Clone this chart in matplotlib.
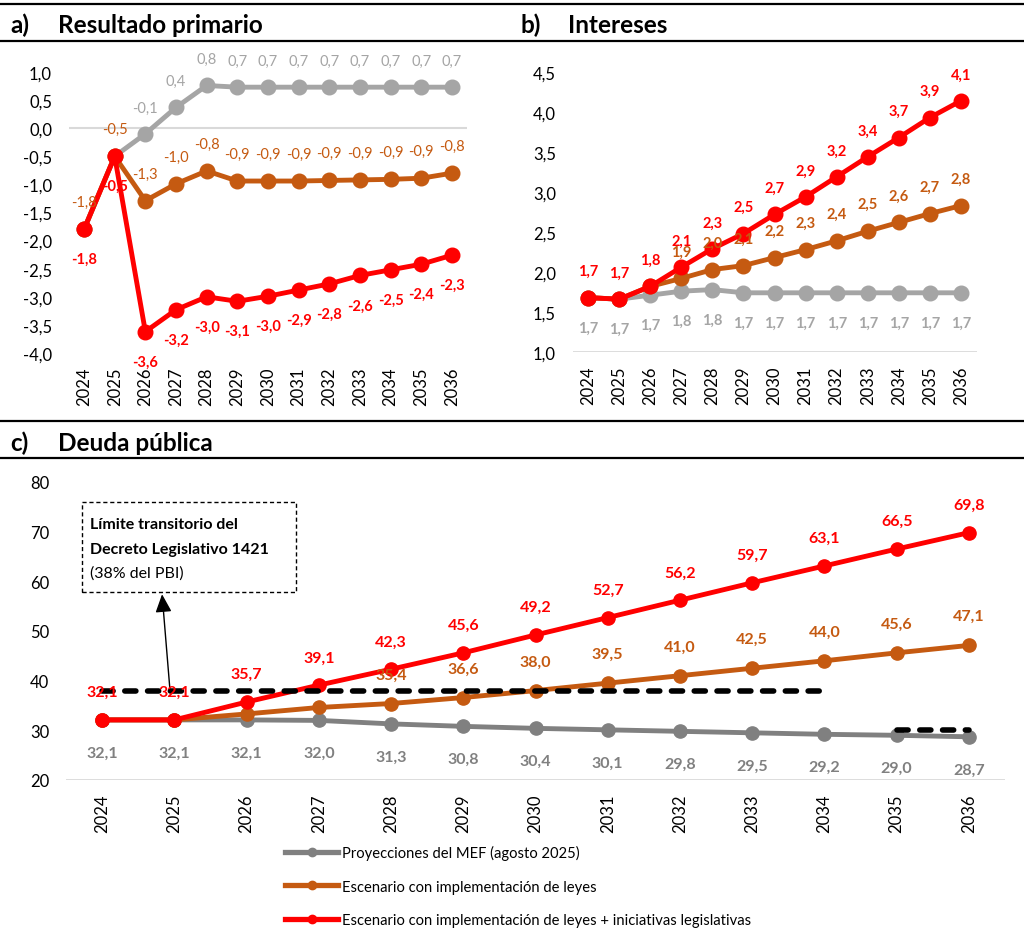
import numpy as np
import matplotlib
matplotlib.use("Agg")
from matplotlib import pyplot as plt
from matplotlib.ticker import FuncFormatter
from matplotlib.lines import Line2D
from matplotlib.patches import Rectangle

plt.rcParams['font.family'] = ['Lato', 'DejaVu Sans']

years = [2024, 2025, 2026, 2027, 2028, 2029, 2030, 2031, 2032, 2033, 2034, 2035, 2036]

# a) resultado primario
prim_mef = [-1.8, -0.5, -0.1, 0.37, 0.76, 0.73, 0.73, 0.73, 0.73, 0.73, 0.73, 0.73, 0.73]
prim_leyes = [-1.8, -0.5, -1.29, -0.99, -0.76, -0.94, -0.94, -0.94, -0.93, -0.92, -0.91, -0.89, -0.80]
prim_inic = [-1.8, -0.5, -3.62, -3.23, -3.0, -3.08, -2.99, -2.88, -2.77, -2.62, -2.52, -2.42, -2.26]

# b) intereses
int_mef = [1.68, 1.66, 1.71, 1.76, 1.78, 1.74, 1.74, 1.74, 1.74, 1.74, 1.74, 1.74, 1.74]
int_leyes = [1.68, 1.66, 1.82, 1.92, 2.03, 2.08, 2.18, 2.28, 2.39, 2.51, 2.62, 2.73, 2.83]
int_inic = [1.68, 1.66, 1.82, 2.06, 2.29, 2.48, 2.72, 2.94, 3.19, 3.44, 3.68, 3.93, 4.14]

# c) deuda publica
deuda_mef = [32.1, 32.1, 32.1, 32.0, 31.3, 30.8, 30.4, 30.1, 29.8, 29.5, 29.2, 29.0, 28.7]
deuda_leyes = [32.1, 32.1, 33.3, 34.6, 35.4, 36.6, 38.0, 39.5, 41.0, 42.5, 44.0, 45.6, 47.1]
deuda_inic = [32.1, 32.1, 35.7, 39.1, 42.3, 45.6, 49.2, 52.7, 56.2, 59.7, 63.1, 66.5, 69.8]
limite_dl = [38, 38, 38, 38, 38, 38, 38, 38, 38, 38, 38, np.nan, np.nan]
limite_fin = [np.nan] * 11 + [30, 30]

leg_labels = ["Proyecciones del MEF (agosto 2025)",
              "Escenario con implementación de leyes",
              "Escenario con implementación de leyes + iniciativas legislativas"]

RED = '#FF0000'
ORANGE = '#C55A11'
GRAY_L = '#A5A5A5'
GRAY_D = '#808080'
AXLINE = '#D9D9D9'

W, H = 1024, 929
fig = plt.figure(figsize=(W / 100, H / 100), dpi=100)


def px_axes(left, top, right, bottom):
    return fig.add_axes([left / W, 1 - bottom / H, (right - left) / W, (bottom - top) / H])


def hline(y):
    fig.add_artist(Line2D([0, 1], [1 - y / H] * 2, color='black', lw=1.6))


def comma(v, nd=1):
    return f"{v:.{nd}f}".replace('.', ',')


def setup(ax, ylo, yhi, step, nd):
    x = np.arange(len(years))
    ax.set_xlim(-0.5, len(years) - 0.5)
    ax.set_ylim(ylo, yhi)
    ax.set_yticks(np.arange(ylo, yhi + step / 2, step))
    ax.yaxis.set_major_formatter(FuncFormatter(lambda v, p: comma(v, nd)))
    ax.set_xticks(x)
    ax.set_xticklabels([str(y) for y in years], rotation=90)
    ax.tick_params(axis='x', length=0, pad=10, labelsize=12)
    ax.tick_params(axis='y', length=0, pad=12, labelsize=12)
    for s in ax.spines.values():
        s.set_visible(False)
    return x


def series(ax, x, vals, color, lw, ms, z):
    ln, = ax.plot(x, vals, color=color, lw=lw, marker='o', ms=ms, zorder=z,
                  solid_capstyle='round')
    return ln


def labels(ax, x, vals, color, dy, size, weight, start=0):
    for i in range(start, len(vals)):
        ax.annotate(comma(vals[i]), (x[i], vals[i]), xytext=(0, dy),
                    textcoords='offset points', ha='center', va='center',
                    color=color, fontsize=size, fontweight=weight, zorder=10)


# header lines and titles
hline(5)
hline(42)
hline(422)
hline(459)
tkw = dict(fontsize=17.5, fontweight='bold', va='baseline')
fig.text(10 / W, 1 - 33 / H, 'a)', **tkw)
fig.text(58 / W, 1 - 33 / H, 'Resultado primario', **tkw)
fig.text(520 / W, 1 - 33 / H, 'b)', **tkw)
fig.text(568 / W, 1 - 33 / H, 'Intereses', **tkw)
fig.text(10 / W, 1 - 451 / H, 'c)', **tkw)
fig.text(58 / W, 1 - 451 / H, 'Deuda pública', **tkw)

# panel a
ax_a = px_axes(68.7, 73, 467.3, 354)
x = setup(ax_a, -4.0, 1.0, 0.5, 1)
ax_a.axhline(0, color=AXLINE, lw=1.5, zorder=1)
series(ax_a, x, prim_mef, GRAY_L, 3.5, 10.5, 2)
series(ax_a, x, prim_leyes, ORANGE, 3.5, 10.5, 3)
series(ax_a, x, prim_inic, RED, 3.5, 10.5, 4)
labels(ax_a, x, prim_mef, GRAY_L, 19, 10.5, 'normal', start=2)
labels(ax_a, x, prim_leyes, ORANGE, 19.5, 10.5, 'normal')
labels(ax_a, x, prim_inic, RED, -21.5, 10.5, 'bold')

# panel b
ax_b = px_axes(572.5, 73, 976.5, 353)
x = setup(ax_b, 1.0, 4.5, 0.5, 1)
ax_b.axhline(1.0, color=AXLINE, lw=2, zorder=1)
series(ax_b, x, int_mef, GRAY_L, 3.5, 10.5, 2)
series(ax_b, x, int_leyes, ORANGE, 3.5, 10.5, 3)
series(ax_b, x, int_inic, RED, 3.5, 10.5, 4)
labels(ax_b, x, int_mef, GRAY_L, -21.5, 10.5, 'bold')
labels(ax_b, x, int_leyes, ORANGE, 19.5, 10.5, 'bold', start=3)
labels(ax_b, x, int_inic, RED, 19, 10.5, 'bold')

# panel c
ax_c = px_axes(66, 483, 1005, 781)
x = setup(ax_c, 20, 80, 10, 0)
ax_c.axhline(20, color=AXLINE, lw=2, zorder=1)
series(ax_c, x, deuda_mef, GRAY_D, 3.5, 9.5, 2)
series(ax_c, x, deuda_leyes, ORANGE, 3.5, 9.5, 3)
series(ax_c, x, deuda_inic, RED, 3.5, 9.5, 4)
for lim in (limite_dl, limite_fin):
    ax_c.plot(x, lim, color='black', lw=4, ls=(0, (2.0, 2.1)),
              dash_capstyle='round', zorder=5)
labels(ax_c, x, deuda_mef, GRAY_D, -23.5, 11.5, 'bold')
labels(ax_c, x, deuda_leyes, ORANGE, 21, 11.5, 'bold', start=4)
labels(ax_c, x, deuda_inic, RED, 20, 11.5, 'bold')

# annotation box
ax_c.add_patch(Rectangle((0.017, 0.631), 0.228, 0.302, transform=ax_c.transAxes,
                         fill=False, ec='black', lw=1, ls=(0, (3, 2)), clip_on=False))
ax_c.text(0.0256, 0.846, 'Límite transitorio del', transform=ax_c.transAxes,
          fontsize=11.5, fontweight='bold', va='baseline')
ax_c.text(0.0256, 0.762, 'Decreto Legislativo 1421', transform=ax_c.transAxes,
          fontsize=11.5, fontweight='bold', va='baseline')
ax_c.text(0.0256, 0.681, '(38% del PBI)', transform=ax_c.transAxes,
          fontsize=11.5, va='baseline')
ax_c.annotate('', xy=(0.83, 57.4), xytext=(0.94, 38),
              arrowprops=dict(arrowstyle='-|>,head_length=1.0,head_width=0.45',
                              color='black', lw=1, shrinkA=0, shrinkB=0,
                              mutation_scale=11), zorder=6)

# legend
handles = [Line2D([], [], color=c, lw=3.8, marker='o', ms=6) for c in (GRAY_D, ORANGE, RED)]
fig.legend(handles, leg_labels, loc='center left', bbox_to_anchor=(285 / W, 1 - 887 / H),
           frameon=False, fontsize=10.6, handlelength=3.6, handletextpad=0.3,
           labelspacing=1.3, borderpad=0, borderaxespad=0, numpoints=1)

fig.savefig('out.png', dpi=100)
